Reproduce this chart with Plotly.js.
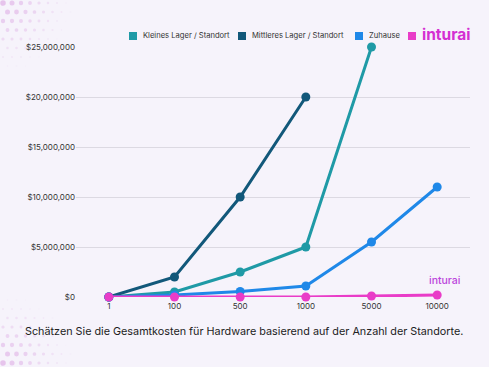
<!DOCTYPE html>
<html><head><meta charset="utf-8">
<script src="https://cdn.plot.ly/plotly-3.0.1.min.js"></script>
<style>html,body{margin:0;padding:0;background:#f6f3fb;}#c{width:489px;height:367px;}</style>
</head><body><div id="c"></div>
<script>
const categories = ['1','100','500','1000','5000','10000'];
const kleines = [0, 500000, 2500000, 5000000, 25000000];
const mittleres = [0, 2000000, 10000000, 20000000];
const zuhause = [0, 200000, 550000, 1100000, 5500000, 11000000];
const inturai = [0, 0, 0, 0, 100000, 200000];
const seriesNames = ['Kleines Lager / Standort','Mittleres Lager / Standort','Zuhause','inturai'];
const colors = ['#1f9aa6','#12587a','#1f88e8','#e93cc8'];
const yTicks = [0,5000000,10000000,15000000,20000000,25000000];
const yTickText = ['$0','$5,000,000','$10,000,000','$15,000,000','$20,000,000','$25,000,000'];
const caption = 'Schätzen Sie die Gesamtkosten für Hardware basierend auf der Anzahl der Standorte.';

const W = 489, H = 367, M = {l: 76, r: 19, t: 47, b: 70};
const pw = W - M.l - M.r, ph = H - M.t - M.b;
const px = x => (x - M.l) / pw;
const py = y => (H - M.b - y) / ph;

const data = [kleines, mittleres, zuhause, inturai];
const traces = data.map((vals, i) => ({
  x: categories.slice(0, vals.length), y: vals, type: 'scatter', mode: 'lines+markers',
  name: seriesNames[i], cliponaxis: false,
  line: {color: colors[i], width: 3}, marker: {color: colors[i], size: 9},
  showlegend: false, hoverinfo: 'skip'
}));

// manual legend (compact, as in reference)
const legendX = [129, 238, 355, 408];
const shapes = [];
const annotations = [];
seriesNames.forEach((n, i) => {
  shapes.push({type: 'rect', xref: 'paper', yref: 'paper', x0: px(legendX[i]), x1: px(legendX[i] + 8),
    y0: py(40), y1: py(32), fillcolor: colors[i], line: {width: 0}, layer: 'above'});
  if (i < 3) {
    annotations.push({text: n, xref: 'paper', yref: 'paper', x: px(legendX[i] + 12), y: py(36),
      xanchor: 'left', yanchor: 'middle', showarrow: false, font: {size: 7.6, color: '#333'}});
  } else {
    annotations.push({text: '<b>' + n + '</b>', xref: 'paper', yref: 'paper', x: px(legendX[i] + 12), y: py(35),
      xanchor: 'left', yanchor: 'middle', showarrow: false,
      font: {size: 15.5, color: '#d42fd2', family: 'Inter, sans-serif'}});
  }
});

// decorative halftone dots
function dots(cx0, cy0, dirY) {
  for (let r = 0; r < 8; r++) {
    for (let c = 0; c < 8; c++) {
      const d = Math.sqrt(r * r + c * c);
      if (d > 7.5) continue;
      const rad = Math.max(0.6, 2.8 - d * 0.3);
      const x = cx0 + c * 9 + (r % 2) * 4.5, y = cy0 + dirY * r * 9;
      shapes.push({type: 'circle', xref: 'paper', yref: 'paper', layer: 'below',
        x0: px(x - rad), x1: px(x + rad), y0: py(y + rad), y1: py(y - rad),
        fillcolor: 'rgba(221,170,228,' + (0.65 - d * 0.08).toFixed(2) + ')', line: {width: 0}});
    }
  }
}
dots(3, 3, 1);
dots(3, 363, -1);

annotations.push({text: caption, xref: 'paper', yref: 'paper', x: px(244), y: py(331),
  xanchor: 'center', yanchor: 'middle', showarrow: false,
  font: {size: 10.8, color: '#222', family: 'Inter, sans-serif'}});
annotations.push({text: 'inturai', xref: 'paper', yref: 'paper', x: px(463), y: py(280),
  xanchor: 'right', yanchor: 'middle', showarrow: false,
  font: {size: 10.5, color: '#bb45dc', family: 'Inter, sans-serif', weight: 500}});

const layout = {
  width: W, height: H,
  paper_bgcolor: '#f6f3fb', plot_bgcolor: 'rgba(0,0,0,0)',
  margin: M,
  showlegend: false,
  font: {family: 'Inter, sans-serif', color: '#333', size: 8},
  xaxis: {type: 'category', categoryorder: 'array', categoryarray: categories,
    range: [-0.5, 5.5], showgrid: false, zeroline: false, showline: false,
    ticks: '', ticklabelstandoff: 3,
    tickfont: {size: 8, color: '#333'}, fixedrange: true},
  yaxis: {range: [0, 25000000], tickvals: yTicks, ticktext: yTickText,
    showgrid: true, gridcolor: '#dcd9e2', gridwidth: 1, zeroline: false,
    ticks: '', tickfont: {size: 8, color: '#333'}, fixedrange: true},
  shapes: shapes,
  annotations: annotations
};
Plotly.newPlot('c', traces, layout, {displayModeBar: false, staticPlot: true});
</script></body></html>
